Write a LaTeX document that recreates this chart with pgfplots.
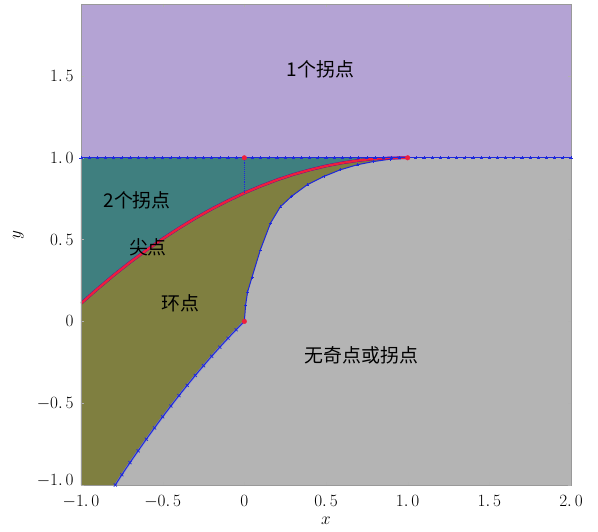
\documentclass[border=0pt]{standalone}
\usepackage{pgfplots}
\pgfplotsset{compat=1.18}
\usepackage{fontspec}
\newfontfamily\cjk{Noto Sans CJK SC}
\definecolor{cpurple}{RGB}{180,163,212}
\definecolor{cteal}{RGB}{63,127,127}
\definecolor{colive}{RGB}{127,127,64}
\definecolor{cgray}{RGB}{180,180,180}
\definecolor{cblue}{RGB}{30,40,220}
\definecolor{cred}{RGB}{240,30,60}
\begin{document}
\begin{tikzpicture}
\begin{axis}[name=ax, scale only axis, width=490bp, height=481bp,
  xmin=-1, xmax=2, ymin=-1, ymax=1.94,
  axis line style={gray!80, line width=0.8pt},
  xtick={-1,-0.5,0,0.5,1,1.5,2}, ytick={-0.5,0,0.5,1,1.5},
  xticklabels={$-1.\,0$,$-0.\,5$,$0$,$0.\,5$,$1.\,0$,$1.\,5$,$2.\,0$},
  yticklabels={$-0.\,5$,$0$,$0.\,5$,$1.\,0$,$1.\,5$},
  extra y ticks={-1}, extra y tick labels={$-1.\,0$},
  extra y tick style={yticklabel style={yshift=4pt}},
  tick align=inside, major tick length=3pt, tick style={gray!60},
  ticklabel style={font=\fontsize{18}{18}\selectfont},
  xticklabel style={yshift=-7pt},
  yticklabel style={xshift=-4pt},
  xlabel={$x$}, ylabel={$y$},
  label style={font=\fontsize{18}{18}\selectfont},
  xlabel style={at={(axis description cs:0.5,-0.075)}, anchor=center},
  ylabel style={at={(axis description cs:-0.128,0.52)}, anchor=center},
  clip=true, axis on top=true]
% background regions
\addplot[fill=cgray, draw=none] coordinates {(-1,-1) (2,-1) (2,1) (-1,1)} -- cycle;
\addplot[fill=cpurple, draw=none] coordinates {(-1,1) (2,1) (2,1.94) (-1,1.94)} -- cycle;
% two inflection region (teal)
\addplot[fill=cteal, draw=none] coordinates {(-1,1) (1,1)
 (1.0,1.000) (0.9,0.999) (0.8,0.994) (0.7,0.984) (0.6,0.969) (0.5,0.950) (0.4,0.926) (0.3,0.898) (0.2,0.865) (0.1,0.827)
 (0,0.785) (-0.1,0.738) (-0.2,0.687) (-0.3,0.631) (-0.4,0.570) (-0.5,0.505) (-0.6,0.435) (-0.7,0.361) (-0.8,0.282) (-0.9,0.198) (-1,0.110)} -- cycle;
% loop region (olive)
\addplot[fill=colive, draw=none] coordinates {(-1,-1) (-0.79,-1)
 (-0.75,-0.9375) (-0.7,-0.863) (-0.65,-0.791) (-0.6,-0.72) (-0.55,-0.651) (-0.5,-0.583) (-0.45,-0.5175) (-0.4,-0.453) (-0.35,-0.391) (-0.3,-0.33) (-0.25,-0.271) (-0.2,-0.213) (-0.15,-0.1575) (-0.1,-0.103) (-0.05,-0.0508) (0,0)
 (0.008,0.10) (0.02,0.18) (0.047,0.27) (0.098,0.437) (0.16,0.60) (0.22,0.70) (0.29,0.765) (0.385,0.835) (0.487,0.886) (0.589,0.927) (0.69,0.957) (0.79,0.977) (0.896,0.992) (1,1)
 (0.9,0.999) (0.8,0.994) (0.7,0.984) (0.6,0.969) (0.5,0.950) (0.4,0.926) (0.3,0.898) (0.2,0.865) (0.1,0.827)
 (0,0.785) (-0.1,0.738) (-0.2,0.687) (-0.3,0.631) (-0.4,0.570) (-0.5,0.505) (-0.6,0.435) (-0.7,0.361) (-0.8,0.282) (-0.9,0.198) (-1,0.110)} -- cycle;
% loop boundary (blue)
\addplot[cblue!60!white, line width=2.2pt, opacity=0.6] coordinates {
 (-0.79,-1) (-0.75,-0.9375) (-0.7,-0.863) (-0.65,-0.791) (-0.6,-0.72) (-0.55,-0.651) (-0.5,-0.583) (-0.45,-0.5175) (-0.4,-0.453) (-0.35,-0.391) (-0.3,-0.33) (-0.25,-0.271) (-0.2,-0.213) (-0.15,-0.1575) (-0.1,-0.103) (-0.05,-0.0508) (0,0)};
\addplot[cblue, line width=0.9pt, mark=x, mark size=2.2pt, mark options={line width=0.7pt}] coordinates {
 (-0.79,-1) (-0.75,-0.9375) (-0.7,-0.863) (-0.65,-0.791) (-0.6,-0.72) (-0.55,-0.651) (-0.5,-0.583) (-0.45,-0.5175) (-0.4,-0.453) (-0.35,-0.391) (-0.3,-0.33) (-0.25,-0.271) (-0.2,-0.213) (-0.15,-0.1575) (-0.1,-0.103) (-0.05,-0.0508) (0,0)};
\addplot[cblue, line width=1pt, mark=+, mark size=1.5pt, mark options={line width=0.5pt}] coordinates {
 (0,0) (0.008,0.10) (0.02,0.18) (0.047,0.27) (0.098,0.437) (0.16,0.60) (0.22,0.70) (0.29,0.765) (0.385,0.835) (0.487,0.886) (0.589,0.927) (0.69,0.957) (0.79,0.977) (0.896,0.992) (1,1)};
% cusp curve (red)
\addplot[violet!80!blue, line width=2.8pt] coordinates {
 (-1,0.110) (-0.9,0.198) (-0.8,0.282) (-0.7,0.361) (-0.6,0.435) (-0.5,0.505) (-0.4,0.570) (-0.3,0.631) (-0.2,0.687) (-0.1,0.738) (0,0.785)
 (0.1,0.827) (0.2,0.865) (0.3,0.898) (0.4,0.926) (0.5,0.950) (0.6,0.969) (0.7,0.984) (0.8,0.994) (0.9,0.999) (1.0,1.000)};
\addplot[cred, line width=2.2pt] coordinates {
 (-1,0.110) (-0.9,0.198) (-0.8,0.282) (-0.7,0.361) (-0.6,0.435) (-0.5,0.505) (-0.4,0.570) (-0.3,0.631) (-0.2,0.687) (-0.1,0.738) (0,0.785)
 (0.1,0.827) (0.2,0.865) (0.3,0.898) (0.4,0.926) (0.5,0.950) (0.6,0.969) (0.7,0.984) (0.8,0.994) (0.9,0.999) (1.0,1.000)};
% y = 1 line
\addplot[cblue, line width=0.9pt, mark=+, mark size=1.6pt, mark options={line width=0.5pt}] coordinates {
 (-1,1) (-0.95,1) (-0.9,1) (-0.85,1) (-0.8,1) (-0.75,1) (-0.7,1) (-0.65,1) (-0.6,1) (-0.55,1)
 (-0.5,1) (-0.45,1) (-0.4,1) (-0.35,1) (-0.3,1) (-0.25,1) (-0.2,1) (-0.15,1) (-0.1,1) (-0.05,1)
 (0,1) (0.05,1) (0.1,1) (0.15,1) (0.2,1) (0.25,1) (0.3,1) (0.35,1) (0.4,1) (0.45,1)
 (0.5,1) (0.55,1) (0.6,1) (0.65,1) (0.7,1) (0.75,1) (0.8,1) (0.85,1) (0.9,1) (0.95,1)
 (1,1) (1.05,1) (1.1,1) (1.15,1) (1.2,1) (1.25,1) (1.3,1) (1.35,1) (1.4,1) (1.45,1)
 (1.5,1) (1.55,1) (1.6,1) (1.65,1) (1.7,1) (1.75,1) (1.8,1) (1.85,1) (1.9,1) (1.95,1) (2,1)};
% dotted vertical at x = 0
\addplot[cblue, densely dotted, line width=0.9pt] coordinates {(0,1) (0,0.785)};
% special points
\addplot[only marks, mark=*, mark size=2.3pt, cred] coordinates {(0,1) (1,1) (0,0)};
% labels
\node[font=\cjk\fontsize{19}{19}\selectfont] at (axis cs:0.466,1.54) {1个拐点};
\node[font=\cjk\fontsize{19}{19}\selectfont] at (axis cs:-0.656,0.743) {2个拐点};
\node[font=\cjk\fontsize{19}{19}\selectfont] at (axis cs:-0.59,0.45) {尖点};
\node[font=\cjk\fontsize{19}{19}\selectfont] at (axis cs:-0.39,0.11) {环点};
\node[font=\cjk\fontsize{19}{19}\selectfont] at (axis cs:0.718,-0.21) {无奇点或拐点};
\end{axis}
\path (ax.south west) ++(-81bp,-47bp) coordinate (bbl);
\path (ax.north east) ++(27bp,4bp) coordinate (bbr);
\useasboundingbox (bbl) rectangle (bbr);
\end{tikzpicture}
\end{document}
